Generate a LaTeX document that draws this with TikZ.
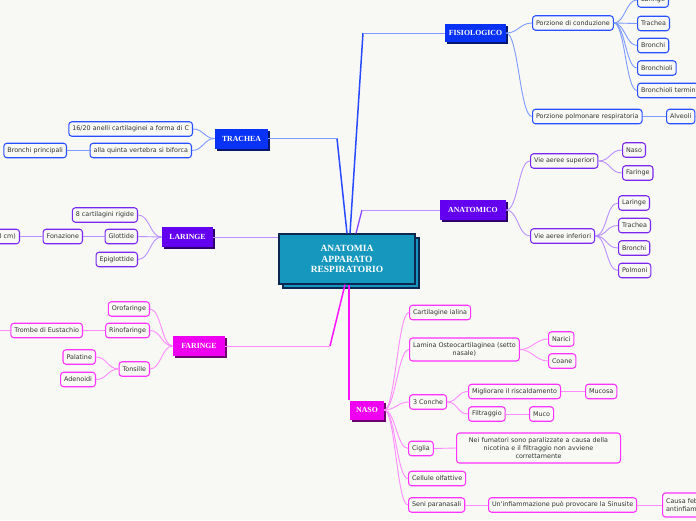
\documentclass[tikz,border=0pt]{standalone}
\usepackage{fontspec}
\newfontfamily\leaffont{DejaVu Sans}
\newfontfamily\ttlfont{Liberation Serif}
\usetikzlibrary{shadows}
\definecolor{bg}{RGB}{248,248,244}
\definecolor{txt}{RGB}{51,51,51}
\definecolor{bfill}{RGB}{8,50,245}
\definecolor{bdraw}{RGB}{40,80,255}
\definecolor{bline}{RGB}{125,155,255}
\definecolor{bmainc}{RGB}{40,75,255}
\definecolor{pfill}{RGB}{100,0,240}
\definecolor{pdraw}{RGB}{120,40,240}
\definecolor{pline}{RGB}{185,145,255}
\definecolor{pmainc}{RGB}{140,70,255}
\definecolor{mfill}{RGB}{240,0,240}
\definecolor{mdraw}{RGB}{255,50,255}
\definecolor{mline}{RGB}{255,140,255}
\definecolor{mmainc}{RGB}{255,20,255}
\definecolor{cfill}{RGB}{22,152,190}
\definecolor{cdraw}{RGB}{12,40,80}
\tikzset{
  leaf/.style={draw, rounded corners=3pt, line width=1.05pt, fill=bg, text=txt,
    font=\leaffont\fontsize{6.4}{8}\selectfont, inner xsep=3.5pt, inner ysep=2pt, minimum height=14.5pt},
  bleaf/.style={leaf, draw=bdraw},
  pleaf/.style={leaf, draw=pdraw},
  mleaf/.style={leaf, draw=mdraw},
  ttl/.style={fill=#1, text=white, font=\ttlfont\bfseries\fontsize{7.8}{9}\selectfont,
    minimum height=20pt, inner sep=0pt,
    drop shadow={shadow xshift=2pt, shadow yshift=-2pt, opacity=1, fill=#1!45!black}},
  bc/.style={draw=bline, line width=0.9pt},
  pc/.style={draw=pline, line width=0.9pt},
  mc/.style={draw=mline, line width=0.9pt},
  bmain/.style={draw=bmainc, line width=1.5pt},
  pmain/.style={draw=pmainc, line width=1.3pt},
  mmain/.style={draw=mmainc, line width=1.5pt},
  rfan/.style={out=0, in=180, distance=#1},
  lfan/.style={out=180, in=0, distance=#1},
}
\begin{document}
\begin{tikzpicture}[x=1pt, y=-1pt]
\useasboundingbox (0,0) rectangle (696,520);
\fill[bg] (0,0) rectangle (696,520);

% ---------- main / title nodes ----------
\node[draw=cdraw, fill=cfill, line width=1.2pt, minimum width=136pt, minimum height=50pt,
  text=white, align=center, font=\ttlfont\bfseries\fontsize{9.5}{10.8}\selectfont,
  copy shadow={shadow xshift=4pt, shadow yshift=-4pt}] (C) at (347,259)
  {ANATOMIA\\APPARATO\\RESPIRATORIO};

\node[ttl=bfill, minimum width=61pt, minimum height=18pt] (FIS) at (475.5,33) {FISIOLOGICO};
\node[ttl=bfill, minimum width=53pt] (TRA) at (241.5,138.5) {TRACHEA};
\node[ttl=pfill, minimum width=66pt] (ANA) at (473,210) {ANATOMICO};
\node[ttl=pfill, minimum width=51pt] (LAR) at (187.5,237) {LARINGE};
\node[ttl=mfill, minimum width=52pt] (FAR) at (199,346) {FARINGE};
\node[ttl=mfill, minimum width=34pt, minimum height=19pt] (NAS) at (367,410) {NASO};

\coordinate (fb) at (363,33);
\coordinate (tb) at (337,138.5);
\coordinate (ab) at (362,210);
\coordinate (rb) at (330,346);

% ---------- leaves: FISIOLOGICO ----------
\node[bleaf, anchor=west] (pco) at (532,23) {Porzione di conduzione};
\node[bleaf, anchor=west] (ppo) at (532,116.5) {Porzione polmonare respiratoria};
\node[bleaf, anchor=west] (fl) at (637,0) {Laringe};
\node[bleaf, anchor=west] (ft) at (637,23.5) {Trachea};
\node[bleaf, anchor=west] (fbr) at (637,45.5) {Bronchi};
\node[bleaf, anchor=west] (fbl) at (637,68) {Bronchioli};
\node[bleaf, anchor=west] (fbt) at (637,90.5) {Bronchioli terminali};
\node[bleaf, anchor=west] (alv) at (666,116.5) {Alveoli};
\coordinate (alvstub) at (705,116.5);

% ---------- leaves: TRACHEA ----------
\node[bleaf, anchor=east] (t1) at (193,129) {16/20 anelli cartilaginei a forma di C};
\node[bleaf, anchor=east] (t2) at (192,150.5) {alla quinta vertebra si biforca};
\node[bleaf, anchor=east] (bp) at (67,150.5) {Bronchi principali};

% ---------- leaves: LARINGE ----------
\node[pleaf, anchor=east] (l8) at (138,215) {8 cartilagini rigide};
\node[pleaf, anchor=east] (lg) at (138,236.5) {Glottide};
\node[pleaf, anchor=east] (le) at (138,259.5) {Epiglottide};
\node[pleaf, anchor=east] (lf) at (83,236.5) {Fonazione};
\node[pleaf, anchor=east] (lc) at (20,236.5) {Corde vocali (1,8 cm)};

% ---------- leaves: ANATOMICO ----------
\node[pleaf, anchor=west] (vs) at (530,161) {Vie aeree superiori};
\node[pleaf, anchor=west] (vi) at (530,236) {Vie aeree inferiori};
\node[pleaf, anchor=west] (an) at (622,150) {Naso};
\node[pleaf, anchor=west] (af) at (622,173) {Faringe};
\node[pleaf, anchor=west] (al) at (618,203) {Laringe};
\node[pleaf, anchor=west] (at) at (618,225.5) {Trachea};
\node[pleaf, anchor=west] (abr) at (618,248) {Bronchi};
\node[pleaf, anchor=west] (ap) at (618,270.5) {Polmoni};

% ---------- leaves: FARINGE ----------
\node[mleaf, anchor=east] (fo) at (150,309) {Orofaringe};
\node[mleaf, anchor=east] (fr) at (150,330.5) {Rinofaringe};
\node[mleaf, anchor=east] (fto) at (150,369) {Tonsille};
\node[mleaf, anchor=east] (ftr) at (83,330.5) {Trombe di Eustachio};
\node[mleaf, anchor=east] (fpa) at (96,357) {Palatine};
\node[mleaf, anchor=east] (fad) at (96,379.5) {Adenoidi};
\coordinate (trstub) at (-5,330.5);

% ---------- leaves: NASO ----------
\node[mleaf, anchor=west] (nc) at (409,312.5) {Cartilagine ialina};
\node[mleaf, anchor=west, align=center, minimum height=23pt] (nl) at (409,349.5) {Lamina Osteocartilaginea (setto\\nasale)};
\node[mleaf, anchor=west] (n3) at (409,402) {3 Conche};
\node[mleaf, anchor=west] (ng) at (408,448.5) {Ciglia};
\node[mleaf, anchor=west] (nco) at (408,478.5) {Cellule olfattive};
\node[mleaf, anchor=west] (ns) at (408,505) {Seni paranasali};
\node[mleaf, anchor=west] (nar) at (548,339) {Narici};
\node[mleaf, anchor=west] (coa) at (548,361) {Coane};
\node[mleaf, anchor=west] (mig) at (468,391.5) {Migliorare il riscaldamento};
\node[mleaf, anchor=west] (fil) at (468,414) {Filtraggio};
\node[mleaf, anchor=west] (muc) at (585,391.5) {Mucosa};
\node[mleaf, anchor=west] (mu) at (529,414) {Muco};
\node[mleaf, anchor=west, align=center, text width=157pt, minimum height=30pt] (fum) at (456,448)
  {Nei fumatori sono paralizzate a causa della\\nicotina e il filtraggio non avviene\\correttamente};
\node[mleaf, anchor=west] (inf) at (488,505) {Un'infiammazione può provocare la Sinusite};
\node[mleaf, anchor=west, align=left, minimum height=24pt] (cau) at (662,505) {Causa febbre\\antinfiammatori};

% ---------- main connectors ----------
\draw[bmain] ([xshift=3pt]C.north) -- (fb);
\draw[bc] (fb) -- (FIS.west);
\draw[bmain] (C.north) -- (tb);
\draw[bc] (tb) -- (TRA.east);
\draw[pmain] ([xshift=9pt]C.north) -- (ab);
\draw[pc] (ab) -- (ANA.west);
\draw[pc] (C.west |- LAR.east) -- (LAR.east);
\draw[mmain] ([xshift=-2pt]C.south) -- (rb);
\draw[mc] (rb) -- (FAR.east);
\draw[mmain] ([xshift=-1pt]NAS.north west) -- ([xshift=-1pt]NAS.north west |- C.south);

% ---------- FISIOLOGICO ----------
\draw[bc] (FIS.east) to[rfan=12pt] (pco.west);
\draw[bc] (FIS.east) to[rfan=12pt] (ppo.west);
\foreach \c in {fl,ft,fbr,fbl,fbt} \draw[bc] (pco.east) to[rfan=11pt] (\c.west);
\draw[bc] (ppo.east) -- (alv.west);
\draw[bc] (alv.east) -- (alvstub);

% ---------- TRACHEA ----------
\draw[bc] (TRA.west) to[lfan=11pt] (t1.east);
\draw[bc] (TRA.west) to[lfan=11pt] (t2.east);
\draw[bc] (t2.west) -- (bp.east);

% ---------- LARINGE ----------
\foreach \c in {l8,lg,le} \draw[pc] (LAR.west) to[lfan=12pt] (\c.east);
\draw[pc] (lg.west) -- (lf.east);
\draw[pc] (lf.west) -- (lc.east);

% ---------- ANATOMICO ----------
\draw[pc] (ANA.east) to[rfan=12pt] (vs.west);
\draw[pc] (ANA.east) to[rfan=12pt] (vi.west);
\foreach \c in {an,af} \draw[pc] (vs.east) to[rfan=12pt] (\c.west);
\foreach \c in {al,at,abr,ap} \draw[pc] (vi.east) to[rfan=12pt] (\c.west);

% ---------- FARINGE ----------
\foreach \c in {fo,fr,fto} \draw[mc] (FAR.west) to[lfan=11pt] (\c.east);
\draw[mc] (fr.west) -- (ftr.east);
\draw[mc] (ftr.west) -- (trstub);
\foreach \c in {fpa,fad} \draw[mc] (fto.west) to[lfan=11pt] (\c.east);

% ---------- NASO ----------
\foreach \c in {nc,nl,n3,ng,nco,ns} \draw[mc] (NAS.east) to[rfan=11pt] (\c.west);
\foreach \c in {nar,coa} \draw[mc] (nl.east) to[rfan=12pt] (\c.west);
\foreach \c in {mig,fil} \draw[mc] (n3.east) to[rfan=11pt] (\c.west);
\draw[mc] (mig.east) -- (muc.west);
\draw[mc] (fil.east) -- (mu.west);
\draw[mc] (ng.east) -- (fum.west);
\draw[mc] (ns.east) -- (inf.west);
\draw[mc] (inf.east) -- (cau.west);
\end{tikzpicture}
\end{document}
